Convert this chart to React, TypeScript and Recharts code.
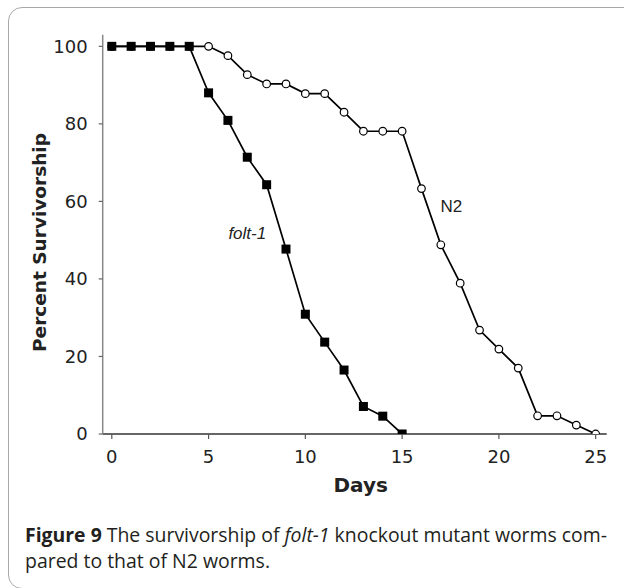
import React from "react";
import { LineChart, Line, XAxis, YAxis, ReferenceDot } from "recharts";

const days = [0, 1, 2, 3, 4, 5, 6, 7, 8, 9, 10, 11, 12, 13, 14, 15, 16, 17, 18, 19, 20, 21, 22, 23, 24, 25];
const folt1Values = [100, 100, 100, 100, 100, 88.0, 80.9, 71.4, 64.3, 47.7, 30.9, 23.7, 16.5, 7.1, 4.6, 0];
const n2Values = [100, 100, 100, 100, 100, 100, 97.6, 92.7, 90.3, 90.3, 87.8, 87.8, 83.0, 78.1, 78.1, 78.1, 63.3, 48.8, 38.9, 26.8, 21.9, 17.0, 4.7, 4.7, 2.3, 0];
const xTicks = [0, 5, 10, 15, 20, 25];
const yTicks = [0, 20, 40, 60, 80, 100];

const data = days.map((d, i) => ({
  day: d,
  folt1: i < folt1Values.length ? folt1Values[i] : null,
  n2: n2Values[i],
}));

const SquareDot = (props: any) => {
  const { cx, cy, value } = props;
  if (cx == null || cy == null || value == null) return null;
  return <rect x={cx - 4.5} y={cy - 4.5} width={9} height={9} fill="#000" />;
};

const CircleDot = (props: any) => {
  const { cx, cy, value } = props;
  if (cx == null || cy == null || value == null) return null;
  return <circle cx={cx} cy={cy} r={3.8} fill="#fff" stroke="#000" strokeWidth={1.2} />;
};

const tickStyle = { fontFamily: "DejaVu Sans", fontSize: 18, fill: "#222" };

export default function App() {
  return (
    <div style={{ position: "fixed", left: 0, top: 0, width: 624, height: 588, overflow: "hidden", background: "#fff" }}>
      <div
        style={{
          position: "absolute",
          left: 8,
          top: 7,
          width: 660,
          height: 582,
          border: "1px solid #a8a8a8",
          borderRadius: 14,
          boxSizing: "border-box",
        }}
      />
      <div style={{ position: "absolute", left: 0, top: 0 }}>
        <LineChart width={624} height={520} data={data} margin={{ top: 34.7, right: 17.3, bottom: 26, left: 0 }}>
          <XAxis
            dataKey="day"
            type="number"
            domain={[-0.47, 25.57]}
            ticks={xTicks}
            allowDataOverflow
            height={60}
            tickSize={5}
            tickMargin={11}
            tick={tickStyle}
            axisLine={{ stroke: "#333", strokeWidth: 1.5 }}
            tickLine={{ stroke: "#555", strokeWidth: 1.2 }}
            label={(p: any) => {
              const vb = p.viewBox;
              return (
                <text
                  x={vb.x + vb.width / 2 + 6}
                  y={492}
                  textAnchor="middle"
                  fontFamily="DejaVu Sans"
                  fontWeight="bold"
                  fontSize={20}
                  fill="#222"
                >
                  Days
                </text>
              );
            }}
          />
          <XAxis
            xAxisId="top"
            orientation="top"
            dataKey="day"
            type="number"
            domain={[-0.47, 25.57]}
            allowDataOverflow
            height={0}
            tick={false}
            tickLine={false}
            axisLine={{ stroke: "#707070", strokeWidth: 1.5 }}
          />
          <YAxis
            type="number"
            domain={[0, 103]}
            ticks={yTicks}
            allowDataOverflow
            width={102.7}
            tickSize={4}
            tickMargin={11}
            tick={tickStyle}
            axisLine={{ stroke: "#888", strokeWidth: 1.5 }}
            tickLine={{ stroke: "#666", strokeWidth: 1.2 }}
            label={() => (
              <text
                x={39}
                y={242.5}
                transform="rotate(-90 39 242.5)"
                textAnchor="middle"
                dominantBaseline="central"
                fontFamily="DejaVu Sans"
                fontWeight="bold"
                fontSize={18.5}
                fill="#222"
              >
                Percent Survivorship
              </text>
            )}
          />
          <YAxis
            yAxisId="right"
            orientation="right"
            type="number"
            domain={[0, 103]}
            allowDataOverflow
            width={0}
            tick={false}
            tickLine={false}
            axisLine={{ stroke: "#9a9a9a", strokeWidth: 2 }}
          />
          <Line
            dataKey="n2"
            stroke="#000"
            strokeWidth={1.7}
            dot={<CircleDot />}
            isAnimationActive={false}
          />
          <Line
            dataKey="folt1"
            stroke="#000"
            strokeWidth={1.7}
            dot={<SquareDot />}
            isAnimationActive={false}
          />
          <ReferenceDot
            x={7.0}
            y={51.6}
            r={0}
            fill="none"
            stroke="none"
            label={(p: any) => (
              <text
                x={p.viewBox.x + (p.viewBox.width || 0) / 2}
                y={p.viewBox.y + (p.viewBox.height || 0) / 2}
                textAnchor="middle"
                dominantBaseline="central"
                fontFamily="Liberation Sans"
                fontStyle="italic"
                fontSize={17}
                fill="#222"
              >
                folt-1
              </text>
            )}
          />
          <ReferenceDot
            x={17.54}
            y={58.7}
            r={0}
            fill="none"
            stroke="none"
            label={(p: any) => (
              <text
                x={p.viewBox.x + (p.viewBox.width || 0) / 2}
                y={p.viewBox.y + (p.viewBox.height || 0) / 2}
                textAnchor="middle"
                dominantBaseline="central"
                fontFamily="Liberation Sans"
                fontSize={17}
                fill="#222"
              >
                N2
              </text>
            )}
          />
        </LineChart>
      </div>
      <svg style={{ position: "absolute", left: 0, top: 0 }} width={624} height={588}>
        <text
          x={25}
          y={541.5}
          textLength={582}
          lengthAdjust="spacingAndGlyphs"
          fontFamily="Open Sans"
          fontSize={19.5}
          fill="#231f20"
        >
          <tspan fontWeight="bold">Figure 9</tspan>
          <tspan> The survivorship of </tspan>
          <tspan fontStyle="italic">folt-1</tspan>
          <tspan> knockout mutant worms com-</tspan>
        </text>
        <text
          x={25}
          y={568}
          textLength={245}
          lengthAdjust="spacingAndGlyphs"
          fontFamily="Open Sans"
          fontSize={19.5}
          fill="#231f20"
        >
          pared to that of N2 worms.
        </text>
      </svg>
    </div>
  );
}
